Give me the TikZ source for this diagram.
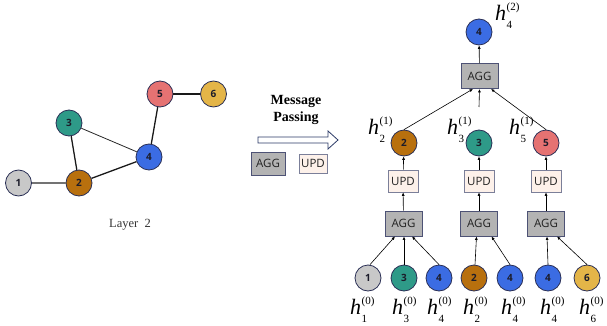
\documentclass[tikz,border=0pt]{standalone}
\usepackage{fontspec}
\setmainfont{Liberation Serif}
\newfontfamily\sansfont{Open Sans}
\usetikzlibrary{arrows.meta}

\definecolor{nodeA}{HTML}{C8C8C8}
\definecolor{nodeB}{HTML}{B8700E}
\definecolor{nodeC}{HTML}{2E9A88}
\definecolor{nodeD}{HTML}{3B6CE3}
\definecolor{nodeE}{HTML}{E57272}
\definecolor{nodeF}{HTML}{E4B548}
\definecolor{nodeline}{HTML}{2A2F55}
\definecolor{numink}{HTML}{1C1C2A}
\definecolor{aggfill}{HTML}{B3B3B3}
\definecolor{aggline}{HTML}{4D5275}
\definecolor{updfill}{HTML}{FDF1EA}
\definecolor{updline}{HTML}{7B7F99}
\definecolor{boxink}{HTML}{222222}
\definecolor{arrowline}{HTML}{2B3A67}

% feature label h^{(k)}_{v}
\newcommand\hlab[2]{{\fontsize{22}{22}\selectfont\itshape h}\kern0.5pt\makebox[0pt][l]{\raisebox{-8pt}{\fontsize{11}{11}\selectfont #1}}\raisebox{10pt}{\fontsize{11}{11}\selectfont(#2)}}

\tikzset{
  gnode/.style={circle, draw=nodeline, line width=0.8pt, minimum size=26pt,
    inner sep=0pt, font=\sansfont\bfseries\fontsize{10}{10}\selectfont, text=numink},
  aggbox/.style={draw=aggline, fill=aggfill, line width=0.9pt, minimum width=37pt,
    minimum height=25pt, inner sep=0pt, font=\sansfont\fontsize{11.5}{11.5}\selectfont, text=boxink},
  updbox/.style={draw=updline, fill=updfill, line width=0.7pt, minimum width=30pt,
    minimum height=22pt, inner sep=0pt, font=\sansfont\fontsize{11.5}{11.5}\selectfont, text=boxink},
  flow/.style={-{Latex[length=3.5pt,width=3pt]}, line width=0.6pt, black},
  gedge/.style={line width=1.3pt, black!90},
  thinedge/.style={line width=0.8pt, black!85},
  greyedge/.style={line width=1.5pt, black!55},
  hlabel/.style={inner sep=0pt, anchor=base west},
}

\begin{document}
\begin{tikzpicture}[x=1pt, y=-1pt]
\useasboundingbox (0,0) rectangle (607,326);

% ---- input graph ----
\node[gnode, fill=nodeA] (g1) at (18.5,183) {1};
\node[gnode, fill=nodeB] (g2) at (79,183) {2};
\node[gnode, fill=nodeC] (g3) at (69,123) {3};
\node[gnode, fill=nodeD] (g4) at (149,157) {4};
\node[gnode, fill=nodeE] (g5) at (160,94) {5};
\node[gnode, fill=nodeF] (g6) at (213.5,94) {6};
\draw[greyedge] (g1) -- (g2);
\draw[gedge] (g2) -- (g3);
\draw[thinedge] (g3) -- (g4);
\draw[gedge] (g2) -- (g4);
\draw[gedge] (g4) -- (g5);
\draw[gedge] (g5) -- (g6);
\node[font=\fontsize{12.5}{12.5}\selectfont, text=black!80] (layer) at (130,225) {Layer~~2};

% ---- legend ----
\node[font=\bfseries\fontsize{14}{17}\selectfont, align=center] (mp) at (296,110) {Message\\Passing};
\draw[arrowline, line width=0.8pt, fill=white]
  (258,137) -- (328,137) -- (328,131) -- (338,140) -- (328,149) -- (328,143) -- (258,143) -- cycle;
\node[aggbox, minimum width=34pt, minimum height=23pt] (legagg) at (268,163.5) {AGG};
\node[updbox, minimum width=28pt, minimum height=19pt] (legupd) at (313,163.5) {UPD};

% ---- computation tree: top ----
\node[gnode, fill=nodeD] (t4) at (479,32) {4};
\node[aggbox] (tagg) at (479.5,76) {AGG};
\draw[flow] (tagg) -- (t4);

% ---- level one ----
\node[gnode, fill=nodeB] (m2) at (404,143) {2};
\node[gnode, fill=nodeC] (m3) at (479,143) {3};
\node[gnode, fill=nodeE] (m5) at (546,143) {5};
\coordinate (m3top) at (479,107);
\draw[flow] (m2.north) -- ([xshift=-6.5pt]tagg.south);
\draw[flow] (m3top) -- (tagg.south);
\draw[flow] (m5.north) -- ([xshift=11.5pt]tagg.south);

\node[hlabel] (l4top) at (495,21) {\hlab{4}{2}};
\node[hlabel] (l2m) at (368,135) {\hlab{2}{1}};
\node[hlabel] (l3m) at (447,135) {\hlab{3}{1}};
\node[hlabel] (l5m) at (509,135) {\hlab{5}{1}};

% ---- update and aggregate boxes ----
\node[updbox] (u1) at (403,181) {UPD};
\node[updbox] (u2) at (479,181) {UPD};
\node[updbox] (u3) at (546,181) {UPD};
\node[aggbox] (a1) at (403.5,223.5) {AGG};
\node[aggbox] (a2) at (479,223.5) {AGG};
\node[aggbox] (a3) at (546,223.5) {AGG};
\foreach \i/\m in {1/m2, 2/m3, 3/m5} {
  \draw[flow] (u\i) -- (\m);
  \draw[flow] (a\i) -- (u\i);
}

% ---- leaves ----
\node[gnode, fill=nodeA] (b1) at (368,278) {1};
\node[gnode, fill=nodeC] (b2) at (404,278) {3};
\node[gnode, fill=nodeD] (b3) at (439,278) {4};
\node[gnode, fill=nodeB] (b4) at (474,278) {2};
\node[gnode, fill=nodeD] (b5) at (510,278) {4};
\node[gnode, fill=nodeD] (b6) at (548,278) {4};
\node[gnode, fill=nodeF] (b7) at (587,278) {6};

\draw[flow] ([xshift=2pt]b1.north) -- ([xshift=-8.5pt]a1.south);
\draw[flow] (b2.north) -- ([xshift=0.5pt]a1.south);
\draw[flow] (b3.north) -- ([xshift=8.5pt]a1.south);
\draw[flow] ([xshift=1pt]b4.north) -- ([xshift=-2.5pt]a2.south);
\draw[flow] (b5.north) -- ([xshift=12.5pt]a2.south);
\draw[flow] (b6.north) -- ([xshift=1pt]a3.south);
\draw[flow] (b7.north) -- ([xshift=11pt]a3.south);

\node[hlabel] (lb1) at (350,314) {\hlab{1}{0}};
\node[hlabel] (lb2) at (392,314) {\hlab{3}{0}};
\node[hlabel] (lb3) at (427,314) {\hlab{4}{0}};
\node[hlabel] (lb4) at (463,314) {\hlab{2}{0}};
\node[hlabel] (lb5) at (501,314) {\hlab{4}{0}};
\node[hlabel] (lb6) at (540,314) {\hlab{4}{0}};
\node[hlabel] (lb7) at (579,314) {\hlab{6}{0}};
\end{tikzpicture}
\end{document}
